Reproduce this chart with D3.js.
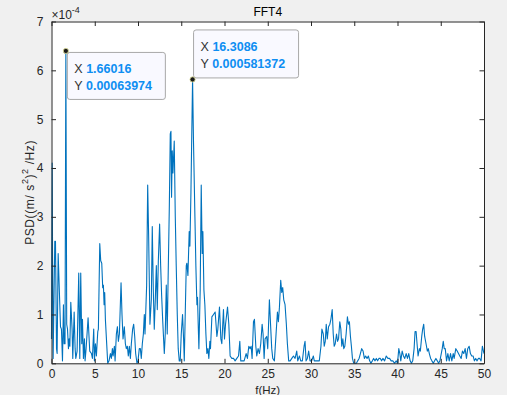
<!DOCTYPE html>
<html>
<head>
<meta charset="utf-8">
<script src="https://cdn.jsdelivr.net/npm/d3@7"></script>
<style>
  body { margin: 0; background: #f0f0f0; }
  svg { display: block; font-family: "Liberation Sans", Arial, sans-serif; }
</style>
</head>
<body>
<svg id="chart"></svg>
<script>
// Frequency (Hz) and PSD (in units of 1e-4 (m/s^2)^2/Hz)
const freq = [
  0, 0.08, 0.12, 0.19, 0.38, 0.46, 0.58, 0.65, 0.77, 1.04, 1.15, 1.27, 1.38, 1.46, 1.5625, 1.66016, 1.7578, 1.85, 1.96,
  2.04, 2.12, 2.23, 2.38, 2.46, 2.62, 2.73, 2.81, 2.96, 3.15, 3.27, 3.38, 3.5, 3.58, 3.69, 3.81, 3.88,
  4.0, 4.23, 4.42, 4.62, 4.73, 4.88, 4.96, 5.08, 5.19, 5.35, 5.42, 5.58, 5.69, 5.81, 5.92,
  6.0, 6.08, 6.15, 6.23, 6.35, 6.5, 6.65, 6.81, 6.92, 7.04, 7.12, 7.27, 7.35, 7.5, 7.62, 7.73, 7.85,
  8.04, 8.15, 8.27, 8.42, 8.54, 8.65, 8.77, 8.88, 9.0, 9.12, 9.23, 9.38, 9.5, 9.62, 9.73, 9.88,
  10.0, 10.15, 10.27, 10.38, 10.5, 10.62, 10.73, 10.81, 11.0, 11.08, 11.12, 11.23, 11.38, 11.54, 11.65, 11.77, 11.88,
  12.0, 12.12, 12.23, 12.35, 12.5, 12.62, 12.73, 12.85, 13.04, 13.15, 13.27, 13.38, 13.46, 13.62, 13.73, 13.81, 13.88, 13.96,
  14.04, 14.19, 14.31, 14.42, 14.54, 14.65, 14.77, 14.88, 15.0, 15.15, 15.27, 15.35, 15.46, 15.58, 15.65, 15.77, 15.92,
  16.0, 16.12, 16.3086, 16.42, 16.58, 16.69, 16.81, 16.88, 16.96, 17.04, 17.19, 17.31, 17.42, 17.5, 17.62, 17.73, 17.85, 17.96,
  18.08, 18.19, 18.31, 18.38, 18.54, 18.73, 18.92, 19.12, 19.23, 19.42, 19.58, 19.69, 19.88,
  20.0, 20.12, 20.35, 20.5, 20.65, 20.85, 21.04, 21.23, 21.42, 21.62, 21.77, 21.88,
  22.08, 22.27, 22.5, 22.65, 22.81, 22.96, 23.08, 23.19, 23.35, 23.46, 23.62, 23.73, 23.88,
  24.04, 24.19, 24.35, 24.46, 24.58, 24.69, 24.88, 25.0, 25.19, 25.35, 25.46, 25.58, 25.77, 25.96,
  26.12, 26.23, 26.35, 26.5, 26.62, 26.73, 26.85, 27.0, 27.15, 27.27, 27.42, 27.59, 27.78, 27.97,
  28.16, 28.35, 28.47, 28.66, 28.81, 29.0, 29.2, 29.31, 29.43, 29.58, 29.73, 29.89,
  30.08, 30.27, 30.38, 30.65, 30.96, 31.15, 31.26, 31.42, 31.53, 31.65, 31.76, 31.88,
  32.03, 32.18, 32.3, 32.45, 32.57, 32.68, 32.8, 32.95, 33.07, 33.18, 33.33, 33.45, 33.56, 33.68, 33.79, 33.91,
  34.06, 34.21, 34.33, 34.44, 34.56, 34.67, 34.79, 34.94, 35.1, 35.25, 35.4, 35.56, 35.71, 35.86,
  36.02, 36.17, 36.32, 36.48, 36.63, 36.78, 36.93, 37.09, 37.24, 37.39, 37.55, 37.7, 37.85,
  38.01, 38.16, 38.31, 38.51, 38.7, 38.89, 39.08, 39.27, 39.46, 39.66, 39.85,
  40.0, 40.15, 40.27, 40.38, 40.54, 40.69, 40.84, 41.0, 41.15, 41.3, 41.46, 41.61, 41.76, 41.92,
  42.03, 42.15, 42.26, 42.38, 42.53, 42.64, 42.8, 42.91, 43.03, 43.14, 43.3, 43.45, 43.56, 43.68, 43.83, 43.98,
  44.14, 44.29, 44.44, 44.6, 44.75, 44.9, 45.06, 45.17, 45.29, 45.4, 45.52, 45.67, 45.82, 45.98,
  46.13, 46.28, 46.44, 46.55, 46.74, 46.9, 47.05, 47.2, 47.36, 47.51, 47.66, 47.82, 47.97,
  48.12, 48.28, 48.43, 48.58, 48.74, 48.89, 49.04, 49.2, 49.35, 49.5, 49.66, 49.81, 50
];
const psd = [
  0.5, 4.1, 2.3, 0.1, 2.5, 2.5, 0.3, 0.2, 2.25, 0.75, 0.7, 0.05, 1.2, 0.4, 0.4, 6.3974, 0.8, 0.7, 0.3,
  0.5, 0.35, 1.25, 0.7, 0.1, 1.05, 0.3, 0.1, 0.25, 1.85, 0.1, 1.85, 0.4, 0.9, 0.1, 0.5, 0.05,
  0.3, 0.93, 0.25, 0.2, 0.1, 0.7, 0.05, 0.4, 0.15, 0.65, 0.7, 2.45, 2.1, 2.05, 1.55,
  1.6, 1.2, 1.45, 0.9, 0.5, 0.0, 0.05, 0.2, 0.1, 0.3, 0.15, 0.35, 0.05, 0.6, 0.75, 0.45, 0.6,
  1.65, 1.0, 0.5, 0.75, 0.4, 0.3, 0.35, 0.15, 0.35, 0.1, 0.4, 0.7, 0.8, 0.55, 0.2, 0.0,
  0.05, 0.3, 0.3, 0.1, 0.4, 0.6, 1.0, 0.6, 1.6, 3.0, 3.65, 2.6, 0.8, 1.3, 2.8, 1.5, 0.7,
  1.3, 2.0, 1.1, 2.1, 2.85, 2.0, 1.4, 0.9, 0.2, 0.6, 1.6, 0.6, 1.5, 3.2, 4.7, 4.75, 3.4, 4.35,
  3.9, 4.55, 3.0, 2.0, 1.0, 0.3, 0.05, 0.05, 0.6, 1.0, 0.5, 0.05, 1.0, 2.0, 2.05, 1.8, 2.7,
  2.4, 3.5, 5.81372, 4.5, 3.0, 2.0, 1.2, 1.35, 0.8, 0.3, 1.5, 3.65, 2.25, 2.7, 1.5, 1.2, 0.6, 0.2,
  0.3, 0.1, 0.45, 0.3, 0.95, 1.0, 1.05, 0.55, 0.7, 1.15, 0.5, 0.4, 1.1,
  0.5, 0.8, 1.15, 0.8, 0.15, 0.1, 0.1, 0.05, 0.1, 0.15, 0.45, 0.05,
  0.05, 0.05, 0.2, 0.1, 0.35, 0.3, 0.35, 0.1, 0.85, 0.9, 0.35, 0.15, 0.3,
  0.2, 0.4, 0.8, 0.6, 0.1, 0.5, 0.55, 0.3, 1.3, 0.7, 0.3, 0.1, 0.05, 0.6,
  1.05, 0.85, 1.15, 1.7, 1.45, 1.55, 1.3, 1.2, 0.8, 0.4, 0.05, 0.05, 0.1, 0.15,
  0.1, 0.25, 0.05, 0.15, 0.05, 0.05, 0.35, 0.45, 0.05, 0.1, 0.25, 0.05,
  0.05, 0.15, 0.05, 0.05, 0.05, 0.35, 0.7, 0.6, 0.35, 0.45, 0.8, 0.5,
  0.75, 0.8, 0.9, 1.1, 0.6, 0.35, 0.4, 0.6, 0.45, 0.5, 0.85, 0.7, 0.35, 0.5, 0.3, 0.35,
  0.6, 0.95, 0.8, 0.85, 0.55, 0.35, 0.1, 0.0, 0.0, 0.0, 0.05, 0.1, 0.2, 0.3,
  0.25, 0.1, 0.15, 0.1, 0.15, 0.05, 0.0, 0.05, 0.1, 0.05, 0.1, 0.05, 0.1,
  0.1, 0.05, 0.1, 0.05, 0.15, 0.1, 0.1, 0.05, 0.05, 0.0, 0.05,
  0.0, 0.3, 0.2, 0.05, 0.25, 0.15, 0.1, 0.2, 0.1, 0.2, 0.05, 0.0, 0.05, 0.3,
  0.65, 0.65, 0.4, 0.15, 0.3, 0.25, 0.55, 0.7, 0.8, 0.55, 0.4, 0.25, 0.3, 0.2, 0.1, 0.05,
  0.0, 0.05, 0.1, 0.05, 0.0, 0.05, 0.2, 0.3, 0.45, 0.3, 0.3, 0.05, 0.2, 0.05,
  0.2, 0.05, 0.2, 0.1, 0.3, 0.25, 0.2, 0.15, 0.1, 0.25, 0.2, 0.3, 0.1,
  0.3, 0.35, 0.2, 0.15, 0.15, 0.05, 0.1, 0.05, 0.1, 0.1, 0.05, 0.35, 0.2
];

const xTicks = [0, 5, 10, 15, 20, 25, 30, 35, 40, 45, 50];
const yTicks = [0, 1, 2, 3, 4, 5, 6, 7];

// data tips shown on the plot
const tipX = [1.66016, 16.3086];
const tipY = [0.00063974, 0.000581372];

const width = 507;
const height = 395;
const svg = d3.select("#chart")
  .attr("width", width)
  .attr("height", height);

// axes box position
const axLeft = 51.5, axRight = 484, axTop = 21.5, axBottom = 363.3;

const x = d3.scaleLinear().domain([0, 50]).range([axLeft, axRight]);
const y = d3.scaleLinear().domain([0, 7]).range([axBottom, axTop]);

svg.append("rect")
  .attr("width", width)
  .attr("height", height)
  .attr("fill", "#f0f0f0");

svg.append("rect")
  .attr("x", axLeft)
  .attr("y", axTop)
  .attr("width", axRight - axLeft)
  .attr("height", axBottom - axTop)
  .attr("fill", "white");

// the PSD line
const line = d3.line()
  .x((d, i) => x(freq[i]))
  .y(d => y(d));

svg.append("path")
  .datum(psd)
  .attr("d", line)
  .attr("fill", "none")
  .attr("stroke", "#0072BD")
  .attr("stroke-width", 1.1)
  .attr("stroke-linejoin", "round");

// axes: inward ticks, mirrored on top and right
const tickLen = 4.5;
const axisColor = "#262626";

const xAxis = svg.append("g")
  .attr("transform", `translate(0,${axBottom})`)
  .call(d3.axisBottom(x).tickValues(xTicks).tickFormat(d3.format("d"))
    .tickSizeInner(-tickLen).tickSizeOuter(0).tickPadding(6));
const xAxisTop = svg.append("g")
  .attr("transform", `translate(0,${axTop})`)
  .call(d3.axisTop(x).tickValues(xTicks).tickSizeInner(-tickLen).tickSizeOuter(0).tickFormat(""));
const yAxis = svg.append("g")
  .attr("transform", `translate(${axLeft},0)`)
  .call(d3.axisLeft(y).tickValues(yTicks).tickFormat(d3.format("d"))
    .tickSizeInner(-tickLen).tickSizeOuter(0).tickPadding(8));
const yAxisRight = svg.append("g")
  .attr("transform", `translate(${axRight},0)`)
  .call(d3.axisRight(y).tickValues(yTicks).tickSizeInner(-tickLen).tickSizeOuter(0).tickFormat(""));

[xAxis, xAxisTop, yAxis, yAxisRight].forEach(g => {
  g.select(".domain").attr("stroke", axisColor).attr("stroke-width", 1);
  g.selectAll(".tick line").attr("stroke", axisColor).attr("stroke-width", 1);
  g.selectAll(".tick text")
    .attr("fill", axisColor)
    .attr("font-size", 12)
    .attr("font-family", "'Liberation Sans', Arial, sans-serif");
});

// exponent label
const expLabel = svg.append("text")
  .attr("x", axLeft)
  .attr("y", 18.5)
  .attr("font-size", 12)
  .attr("fill", axisColor);
expLabel.append("tspan").text("\u00d710");
expLabel.append("tspan")
  .attr("dy", -6)
  .attr("font-size", 9)
  .text("-4");

// title
svg.append("text")
  .attr("x", (axLeft + axRight) / 2)
  .attr("y", 16)
  .attr("text-anchor", "middle")
  .attr("font-size", 12)
  .attr("fill", "black")
  .text("FFT4");

// x label
svg.append("text")
  .attr("x", (axLeft + axRight) / 2)
  .attr("y", 393.5)
  .attr("text-anchor", "middle")
  .attr("font-size", 11.5)
  .attr("fill", axisColor)
  .text("f(Hz)");

// y label with superscripts
const yLabel = svg.append("text")
  .attr("transform", `translate(34,${(axTop + axBottom) / 2}) rotate(-90)`)
  .attr("text-anchor", "middle")
  .attr("font-size", 12)
  .attr("letter-spacing", 0.6)
  .attr("fill", axisColor);
yLabel.append("tspan").text("PSD((m/ s");
yLabel.append("tspan").attr("dy", -6).attr("font-size", 9).text("2");
yLabel.append("tspan").attr("dy", 6).text(")");
yLabel.append("tspan").attr("dy", -6).attr("font-size", 9).text("2");
yLabel.append("tspan").attr("dy", 6).text(" /Hz)");

// data tips
const tipBoxes = [
  { dx: 1.5, dy: 1.5, w: 98, h: 47, below: true },
  { dx: 1, dy: -1.5, w: 105, h: 48, below: false }
];

tipX.forEach((tx, i) => {
  const px = x(tx);
  const py = y(tipY[i] * 1e4);
  const b = tipBoxes[i];
  const bx = px + b.dx;
  const by = b.below ? py + b.dy : py + b.dy - b.h;

  const g = svg.append("g");
  g.append("rect")
    .attr("x", bx)
    .attr("y", by)
    .attr("width", b.w)
    .attr("height", b.h)
    .attr("rx", 2.5)
    .attr("fill", "#f9f9ff")
    .attr("stroke", "#a8a8a8")
    .attr("stroke-width", 1);

  const rows = [["X ", String(tx)], ["Y ", String(tipY[i])]];
  rows.forEach((r, j) => {
    const t = g.append("text")
      .attr("x", bx + 7)
      .attr("y", by + 21 + j * 17)
      .attr("font-size", 12.5);
    t.append("tspan").attr("fill", "#333333").text(r[0]);
    t.append("tspan").attr("fill", "#0e8ef2").attr("font-weight", "bold").text(r[1]);
  });

  svg.append("circle")
    .attr("cx", px)
    .attr("cy", py)
    .attr("r", 2.6)
    .attr("fill", "#1a1a1a")
    .attr("stroke", "#e8e8a0")
    .attr("stroke-width", 0.8);
});
</script>
</body>
</html>
